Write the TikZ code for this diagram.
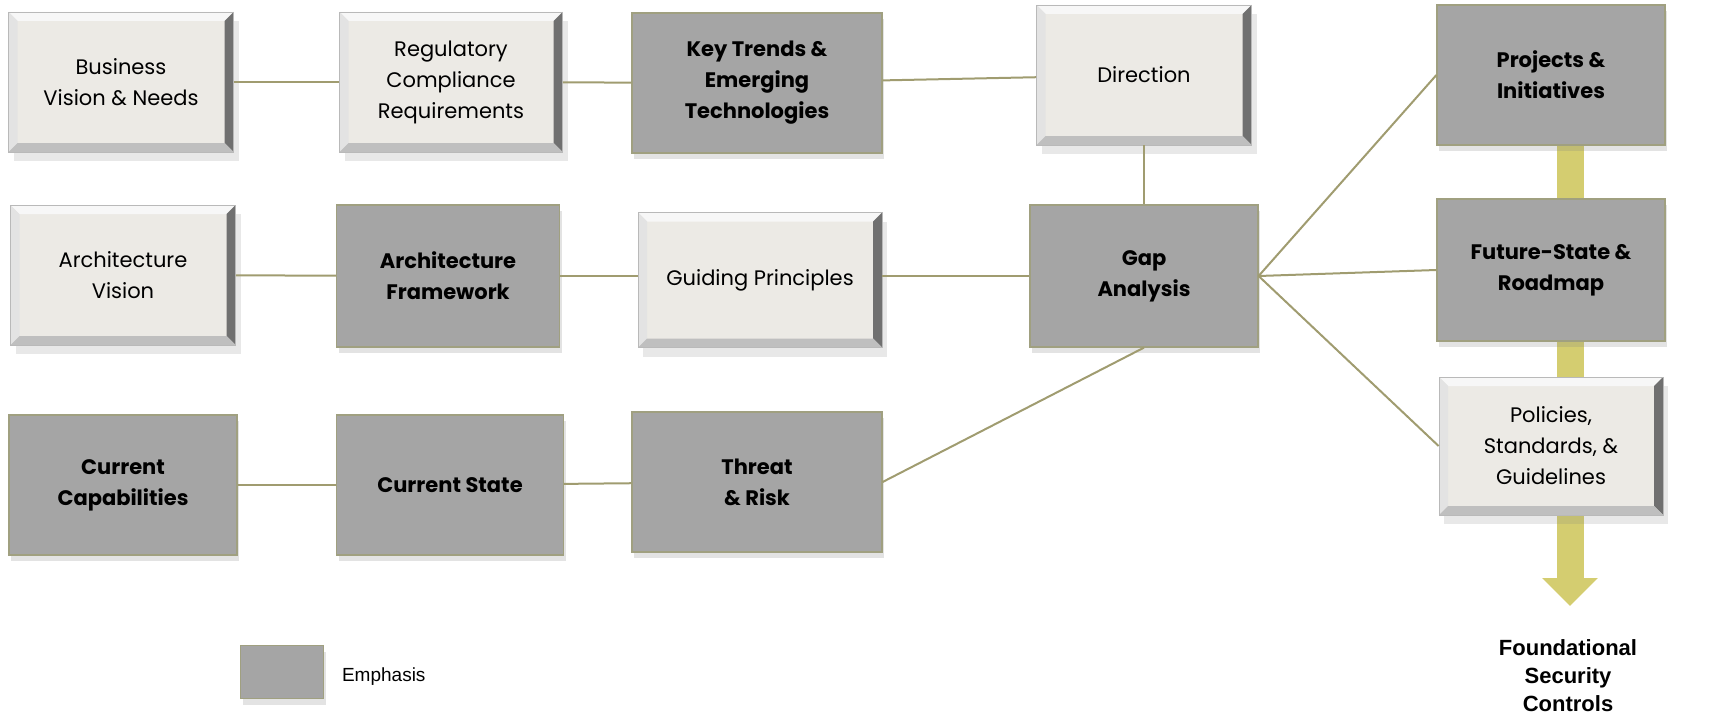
\documentclass[tikz,border=0pt]{standalone}
\usepackage{fontspec}
\setmainfont{Poppins}
\newfontfamily\arialfont{Liberation Sans}
\definecolor{paperlight}{RGB}{236, 234, 229}
\definecolor{emphgray}{RGB}{165, 165, 165}
\definecolor{emphedge}{RGB}{160, 160, 128}
\definecolor{linkolive}{RGB}{160, 156, 112}
\definecolor{flowgold}{RGB}{212, 205, 112}
\usetikzlibrary{shadows, arrows.meta, backgrounds}

\tikzset{
  bevel/.style={path picture={
    \path (path picture bounding box.north west) coordinate (bnw)
          (path picture bounding box.south east) coordinate (bse);
    \fill[white!94!gray] (bnw) -- (bnw -| bse) -- ([shift={(-4.5pt,-4.5pt)}]bnw -| bse) -- ([shift={(4.5pt,-4.5pt)}]bnw) -- cycle;
    \fill[gray!22] (bnw) -- ([shift={(4.5pt,-4.5pt)}]bnw) -- ([shift={(4.5pt,4.5pt)}]bnw |- bse) -- (bnw |- bse) -- cycle;
    \fill[gray!60!black!80] (bnw -| bse) -- (bse) -- ([shift={(-4.5pt,4.5pt)}]bse) -- ([shift={(-4.5pt,-4.5pt)}]bnw -| bse) -- cycle;
    \fill[gray!50] (bnw |- bse) -- ([shift={(4.5pt,4.5pt)}]bnw |- bse) -- ([shift={(-4.5pt,4.5pt)}]bse) -- (bse) -- cycle;
  }}
}

\begin{document}
\begin{tikzpicture}[x=0.5pt, y=-0.5pt,
  boxtext/.style={align=center, inner sep=2pt, font=\fontsize{10.5}{15.5}\selectfont},
  lightbox/.style={boxtext, draw=gray!55, line width=0.4pt, fill=paperlight, bevel,
    minimum width=112.5pt, minimum height=70pt,
    drop shadow={shadow xshift=2.5pt, shadow yshift=-4.5pt, opacity=0.18}},
  darkbox/.style={boxtext, font=\fontsize{10.5}{15.5}\selectfont\bfseries, draw=emphedge, line width=0.6pt, fill=emphgray,
    minimum width=112.5pt, minimum height=70pt,
    drop shadow={shadow xshift=1pt, shadow yshift=-3pt, opacity=0.22}},
  link/.style={draw=linkolive, line width=1pt}]
  \useasboundingbox (0,0) rectangle (1712,717);

  \node[lightbox] (business) at (121,82) {Business\\Vision \& Needs};
  \node[lightbox, minimum width=111.5pt] (regulatory) at (451,82) {Regulatory\\Compliance\\Requirements};
  \node[darkbox, minimum width=125pt] (trends) at (757,83) {Key Trends \&\\Emerging\\Technologies};
  \node[lightbox, minimum width=107.5pt] (direction) at (1144,75) {Direction};
  \node[darkbox, minimum width=114pt] (projects) at (1551,75) {Projects \&\\Initiatives};

  \node[lightbox] (archvision) at (123,275) {Architecture\\Vision};
  \node[darkbox, minimum width=111.5pt, minimum height=71pt] (framework) at (448,276) {Architecture\\Framework};
  \node[lightbox, minimum width=122pt, minimum height=67.5pt] (guiding) at (760,280) {Guiding Principles};
  \node[darkbox, minimum width=114pt, minimum height=71pt] (gap) at (1144,276) {Gap\\Analysis};
  \node[darkbox, minimum width=114pt, minimum height=71pt] (future) at (1551,270) {Future-State \&\\Roadmap};

  \node[darkbox, minimum width=114pt] (capabilities) at (123,485) {Current\\Capabilities};
  \node[darkbox, minimum width=113.5pt] (currentstate) at (450,485) {Current State};
  \node[darkbox, minimum width=125pt] (threat) at (757,482) {Threat\\\& Risk};
  \node[lightbox, minimum width=112pt, minimum height=69pt] (policies) at (1551,446) {Policies,\\Standards, \&\\Guidelines};

  \coordinate (flowtip) at (1570,606);
  \begin{scope}[on background layer]
    \draw[flowgold, line width=13.5pt, -{Triangle[width=27pt, length=14pt]}] (projects.south -| flowtip) -- (flowtip);
  \end{scope}

  \node[align=center, font=\arialfont\bfseries\fontsize{11}{14}\selectfont] (foundation) at (1568,676) {Foundational\\Security\\Controls};

  \node[darkbox, minimum width=41.5pt, minimum height=26.5pt] (legendkey) at (282,672) {};
  \node[anchor=west, font=\arialfont\fontsize{9.5}{11}\selectfont] (legendtext) at (335,677) {Emphasis};

  \draw[link] (business) -- (regulatory);
  \draw[link] (regulatory) -- (trends);
  \draw[link] (trends) -- (direction);
  \draw[link] (direction) -- (gap);
  \draw[link] (archvision) -- (framework);
  \draw[link] (framework) -- (guiding.west |- framework);
  \draw[link] (guiding.east |- gap) -- (gap);
  \draw[link] (gap.east) -- (projects.west);
  \draw[link] (gap.east) -- (future.west);
  \draw[link] (gap.east) -- (policies.west);
  \draw[link] (capabilities) -- (currentstate);
  \draw[link] (currentstate) -- (threat);
  \draw[link] (threat.east) -- (gap.south);
\end{tikzpicture}
\end{document}
